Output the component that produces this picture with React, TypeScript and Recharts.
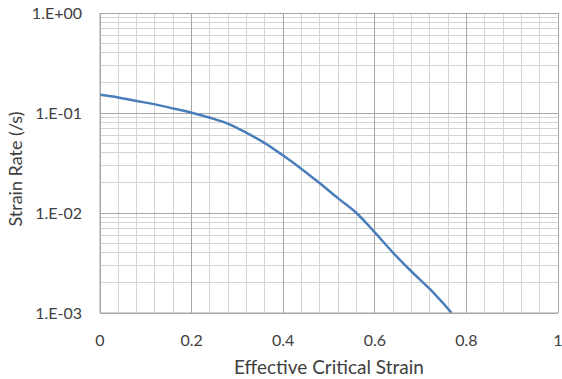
import { LineChart, Line, CartesianGrid, XAxis, YAxis, Label } from 'recharts'

// effective critical strain vs strain rate
const strain = [0, 0.04, 0.08, 0.12, 0.16, 0.2, 0.24, 0.28, 0.32, 0.36, 0.4, 0.44, 0.48, 0.52, 0.56, 0.6, 0.64, 0.68, 0.72, 0.768]
const rate = [0.152, 0.143, 0.132, 0.122, 0.111, 0.1007, 0.0897, 0.078, 0.0633, 0.05, 0.0375, 0.0276, 0.0198, 0.014, 0.01, 0.0064, 0.004, 0.0026, 0.00174, 0.001]

const xTicks = [0, 0.2, 0.4, 0.6, 0.8, 1]
const xMinor = [0.04, 0.08, 0.12, 0.16, 0.24, 0.28, 0.32, 0.36, 0.44, 0.48, 0.52, 0.56, 0.64, 0.68, 0.72, 0.76, 0.84, 0.88, 0.92, 0.96]
const yTicks = [0.001, 0.01, 0.1, 1]
const yMinor = [2, 3, 4, 5, 6, 7, 8, 9].flatMap(m => [m * 0.001, m * 0.01, m * 0.1])

const data = strain.map((s, i) => ({ strain: s, rate: rate[i] }))

const font = 'Lato, "Open Sans", sans-serif'
const txt = '#404040'

const fmtY = (v: number) => {
    const e = Math.round(Math.log10(v))
    return '1.E' + (e < 0 ? '-' : '+') + String(Math.abs(e)).padStart(2, '0')
}

const App = () => {
    return (
        <div style={{ position: 'absolute', left: 0, top: 0, width: 562, height: 379, background: '#fff' }}>
            <LineChart width={562} height={379} data={data} margin={{ top: 13, right: 4, left: 0, bottom: 0 }}>
                <CartesianGrid stroke='#D4D4D4' shapeRendering='crispEdges' horizontalValues={yMinor} verticalValues={xMinor} />
                <CartesianGrid stroke='#A6A6A6' shapeRendering='crispEdges' horizontalValues={yTicks} verticalValues={xTicks} />
                <XAxis dataKey='strain' type='number' domain={[0, 1]} ticks={xTicks} interval={0} height={66}
                    tickSize={0} tickMargin={22} axisLine={{ stroke: '#A6A6A6' }}
                    tick={{ fill: txt, fontSize: 16, fontFamily: font }}>
                    <Label value='Effective Critical Strain' position='insideBottom' offset={5}
                        style={{ fill: txt, fontSize: 19, fontFamily: font }} />
                </XAxis>
                <YAxis dataKey='rate' scale='log' domain={[0.001, 1]} ticks={yTicks} interval={0} allowDataOverflow width={100}
                    tickSize={0} tickMargin={18} tickFormatter={fmtY} axisLine={{ stroke: '#A6A6A6' }}
                    tick={{ fill: txt, fontSize: 16, fontFamily: font }}>
                    <Label content={() => (
                        <text x={0} y={0} transform='translate(22,169) rotate(-90)' textAnchor='middle'
                            fill={txt} fontSize={18} fontFamily={font}>Strain Rate (/s)</text>
                    )} />
                </YAxis>
                <Line type='monotone' dataKey='rate' stroke='#4A7EBB' strokeWidth={2.5} dot={false} isAnimationActive={false} />
            </LineChart>
        </div>
    )
}

export default App
